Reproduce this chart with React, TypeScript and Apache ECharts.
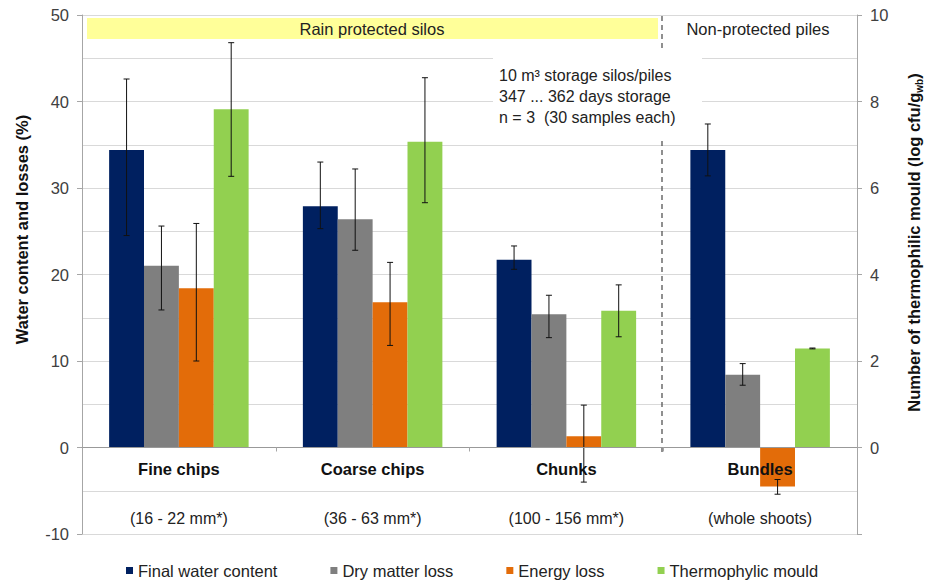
import React, { useEffect, useRef } from "react";
import * as echarts from "echarts";

const categories = ["Fine chips", "Coarse chips", "Chunks", "Bundles"];
const sizeLabels = ["(16 - 22 mm*)", "(36 - 63 mm*)", "(100 - 156 mm*)", "(whole shoots)"];
const seriesNames = ["Final water content", "Dry matter loss", "Energy loss", "Thermophylic mould"];

const waterContent = [34.4, 27.9, 21.7, 34.4];
const waterLow = [24.5, 25.3, 20.6, 31.4];
const waterHigh = [42.6, 33.0, 23.3, 37.4];

const dryMatterLoss = [21.0, 26.4, 15.4, 8.4];
const dryLow = [15.9, 22.8, 12.7, 7.2];
const dryHigh = [25.6, 32.2, 17.6, 9.7];

const energyLoss = [18.4, 16.8, 1.3, -4.5];
const energyLow = [10.0, 11.8, -4.0, -5.4];
const energyHigh = [25.9, 21.4, 4.9, -3.7];

const mould = [7.82, 7.07, 3.16, 2.29];
const mouldLow = [6.27, 5.66, 2.56, 2.28];
const mouldHigh = [9.36, 8.55, 3.76, 2.3];

const leftTicks = { min: -10, max: 50, interval: 10 };
const rightTicks = { min: -2, max: 10, interval: 2 };

const colors = ["#002060", "#7f7f7f", "#e36c09", "#92d050"];
const FONT = "'Liberation Sans', Arial, sans-serif";
const CAT_GAP = 0.28;

const GRID_TOP = 15;
const GRID_BOTTOM = 48;
const CHART_H = 582;

function errorSeries(idx: number, low: number[], high: number[], yAxisIndex: number) {
  return {
    type: "custom",
    name: seriesNames[idx] + " error",
    yAxisIndex,
    z: 5,
    encode: { x: 0, y: [1, 2] },
    data: categories.map((_, i) => [i, low[i], high[i]]),
    renderItem: (params: any, api: any) => {
      const cat = api.value(0);
      const lo = api.coord([cat, api.value(1)]);
      const hi = api.coord([cat, api.value(2)]);
      const band = api.size([1, 0])[0];
      const bw = (band * (1 - CAT_GAP)) / 4;
      const x = lo[0] + (idx - 1.5) * bw;
      const cap = 3;
      const style = { stroke: "#111", lineWidth: 1 };
      return {
        type: "group",
        children: [
          { type: "line", shape: { x1: x, y1: lo[1], x2: x, y2: hi[1] }, style },
          { type: "line", shape: { x1: x - cap, y1: lo[1], x2: x + cap, y2: lo[1] }, style },
          { type: "line", shape: { x1: x - cap, y1: hi[1], x2: x + cap, y2: hi[1] }, style },
        ],
      };
    },
  };
}

export default function App() {
  const ref = useRef<HTMLDivElement>(null);
  useEffect(() => {
    if (!ref.current) return;
    const chart = echarts.init(ref.current, null, { renderer: "svg" });
    const axisLineColor = "#a6a6a6";
    const gridColor = "#d9d9d9";
    const plotH = CHART_H - GRID_TOP - GRID_BOTTOM;
    // distance from the bottom of the plot to the value 0 on the left axis
    const zeroOffset = (plotH * (0 - leftTicks.min)) / (leftTicks.max - leftTicks.min);
    const option: any = {
      animation: false,
      textStyle: { fontFamily: FONT },
      grid: { left: 82, right: 68, top: GRID_TOP, bottom: GRID_BOTTOM, containLabel: false, outerBoundsMode: "none" },
      legend: {
        data: seriesNames,
        left: 126,
        top: 562,
        padding: 0,
        icon: "rect",
        itemWidth: 7,
        itemHeight: 7,
        itemGap: 53,
        textStyle: { fontSize: 16.5, color: "#222", fontFamily: FONT },
      },
      xAxis: {
        type: "category",
        data: categories,
        z: 10,
        offset: -zeroOffset,
        axisLine: { onZero: false, lineStyle: { color: "#999" } },
        axisTick: { show: true, length: 4, lineStyle: { color: axisLineColor } },
        splitLine: { show: false },
        axisLabel: {
          margin: 10,
          interval: 0,
          formatter: (v: string, i: number) => `{b|${v}}\n{s|${sizeLabels[i]}}`,
          rich: {
            b: { fontSize: 16.5, fontWeight: "bold", color: "#111", lineHeight: 22, fontFamily: FONT },
            s: { fontSize: 16, color: "#222", lineHeight: 78, fontFamily: FONT },
          },
        },
      },
      yAxis: [
        {
          type: "value",
          ...leftTicks,
          name: "Water content and losses (%)",
          nameLocation: "middle",
          nameRotate: 90,
          nameGap: 52,
          nameTextStyle: { fontSize: 16.5, fontWeight: "bold", color: "#111", padding: [0, 0, 0, 90], fontFamily: FONT },
          axisLine: { show: true, lineStyle: { color: axisLineColor } },
          axisTick: { show: true, length: 5, lineStyle: { color: axisLineColor } },
          axisLabel: { fontSize: 16.5, color: "#404040", margin: 13, fontFamily: FONT },
          splitLine: { show: true, lineStyle: { color: gridColor } },
          minorTick: { show: false, splitNumber: 2 },
          minorSplitLine: { show: true, lineStyle: { color: gridColor } },
        },
        {
          type: "value",
          ...rightTicks,
          position: "right",
          name: "{a|Number of thermophilic mould (log cfu/g}{sub|wb}{a|)}",
          nameLocation: "middle",
          nameRotate: 90,
          nameGap: 47,
          nameTextStyle: {
            padding: [0, 0, 0, 64],
            rich: {
              a: { fontSize: 16.5, fontWeight: "bold", color: "#111", lineHeight: 20, fontFamily: FONT },
              sub: { fontSize: 10, fontWeight: "bold", color: "#111", lineHeight: 10, verticalAlign: "bottom", fontFamily: FONT },
            },
          },
          axisLine: { show: true, lineStyle: { color: axisLineColor } },
          axisTick: { show: true, length: 5, lineStyle: { color: axisLineColor } },
          axisLabel: {
            fontSize: 16.5,
            color: "#404040",
            margin: 13,
            fontFamily: FONT,
            formatter: (v: number) => (v < 0 ? "" : String(v)),
          },
          splitLine: { show: false },
        },
      ],
      graphic: [
        { type: "rect", z: 1, shape: { x: 87, y: 18, width: 571, height: 21 }, style: { fill: "#ffff99" } },
        {
          type: "text",
          z: 2,
          style: { text: "Rain protected silos", x: 372, y: 29, align: "center", verticalAlign: "middle", font: `16.5px ${FONT}`, fill: "#222" },
        },
        {
          type: "text",
          z: 2,
          style: { text: "Non-protected piles", x: 758, y: 29, align: "center", verticalAlign: "middle", font: `16.5px ${FONT}`, fill: "#222" },
        },
        { type: "rect", z: 1, shape: { x: 493, y: 48, width: 209, height: 91 }, style: { fill: "#ffffff" } },
        {
          type: "text",
          z: 2,
          style: {
            text: "10 m³ storage silos/piles\n347 ... 362 days storage\nn = 3  (30 samples each)",
            x: 499,
            y: 96,
            align: "left",
            verticalAlign: "middle",
            lineHeight: 21,
            font: `16px ${FONT}`,
            fill: "#222",
          },
        },
        { type: "line", z: 1, shape: { x1: 662, y1: 16, x2: 662, y2: 48 }, style: { stroke: "#555", lineWidth: 1.3, lineDash: [5, 4] } },
        { type: "line", z: 1, shape: { x1: 662, y1: 141, x2: 662, y2: 453 }, style: { stroke: "#555", lineWidth: 1.3, lineDash: [5, 4] } },
      ],
      series: [
        { type: "bar", name: seriesNames[0], data: waterContent, yAxisIndex: 0, barGap: "0%", barCategoryGap: "28%", itemStyle: { color: colors[0] } },
        { type: "bar", name: seriesNames[1], data: dryMatterLoss, yAxisIndex: 0, barGap: "0%", barCategoryGap: "28%", itemStyle: { color: colors[1] } },
        { type: "bar", name: seriesNames[2], data: energyLoss, yAxisIndex: 0, barGap: "0%", barCategoryGap: "28%", itemStyle: { color: colors[2] } },
        { type: "bar", name: seriesNames[3], data: mould, yAxisIndex: 1, barGap: "0%", barCategoryGap: "28%", itemStyle: { color: colors[3] } },
        errorSeries(0, waterLow, waterHigh, 0),
        errorSeries(1, dryLow, dryHigh, 0),
        errorSeries(2, energyLow, energyHigh, 0),
        errorSeries(3, mouldLow, mouldHigh, 1),
      ],
    };
    chart.setOption(option);
    return () => chart.dispose();
  }, []);
  return <div ref={ref} style={{ width: 925, height: 582, position: "absolute", left: 0, top: 0, background: "#fff" }} />;
}
